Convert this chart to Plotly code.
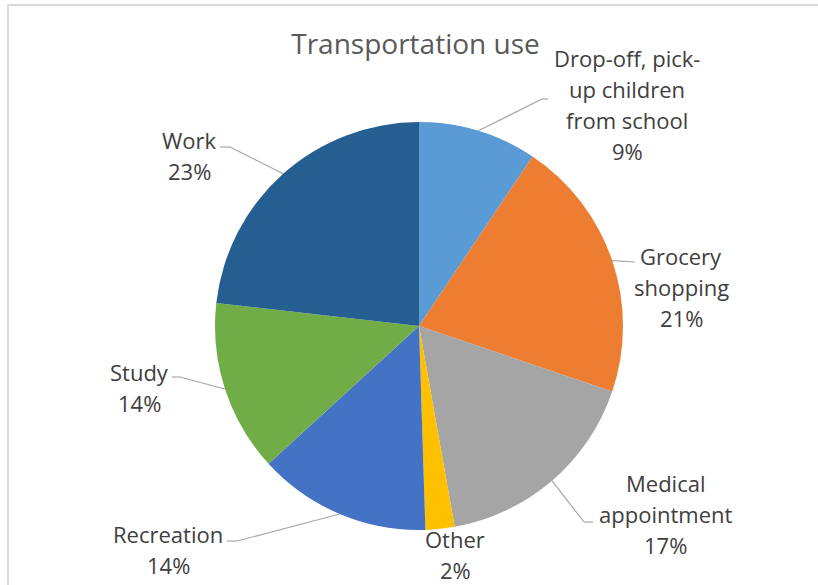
import math
import plotly.graph_objects as go

# ---- data ----
categories = ["Drop-off, pick-up children from school", "Grocery shopping",
              "Medical appointment", "Other", "Recreation", "Study", "Work"]
label_lines = [["Drop-off, pick-", "up children", "from school"], ["Grocery", "shopping"],
               ["Medical", "appointment"], ["Other"], ["Recreation"], ["Study"], ["Work"]]
shares = [9.4, 20.8, 17.0, 2.3, 13.7, 13.6, 23.2]
colors = ["#5B9BD5", "#ED7D31", "#A5A5A5", "#FFC000", "#4472C4", "#70AD47", "#255E91"]
title_text = "Transportation use"

# ---- layout (pixel positions) ----
W, H = 818, 585
CX, CY, R = 419, 326, 204
LINE_H = 31
label_top = [(627, 58), (681, 256), (665, 483), (455, 539), (168, 534), (139, 372), (189, 140)]
leader_pts = [[(542, 99), (548, 99)], [(635, 262)], [(584, 522), (593, 522)], None,
              [(237, 541), (227, 541)], [(180, 377), (172, 377)], [(230, 147), (220, 147)]]
FONT = "Open Sans"


def px(x, y):
    return x / W, 1 - y / H


fig = go.Figure(go.Pie(
    labels=categories, values=shares, sort=False, direction="clockwise", rotation=0,
    marker=dict(colors=colors, line=dict(width=0)), textinfo="none",
    hoverinfo="label+percent", showlegend=False,
    domain=dict(x=[(CX - R) / W, (CX + R) / W], y=[1 - (CY + R) / H, 1 - (CY - R) / H]),
))

total = sum(shares)
annotations = []
shapes = []
cum = 0.0
for i, v in enumerate(shares):
    pct = round(v / total * 100)
    lines = label_lines[i] + [f"{pct}%"]
    x0, y0 = label_top[i]
    for k, line in enumerate(lines):
        lx, ly = px(x0, y0 + k * LINE_H)
        annotations.append(dict(
            x=lx, y=ly, xref="paper", yref="paper", xanchor="center", yanchor="middle",
            text=line, showarrow=False, align="center",
            font=dict(family=FONT, size=22, color="#404040"),
        ))
    mid = (cum + v / 2) / total * 2 * math.pi
    cum += v
    if leader_pts[i] is None:
        continue
    ax = CX + R * math.sin(mid)
    ay = CY - R * math.cos(mid)
    pts = [(ax, ay)] + leader_pts[i]
    for (xa, ya), (xb, yb) in zip(pts[:-1], pts[1:]):
        X0, Y0 = px(xa, ya)
        X1, Y1 = px(xb, yb)
        shapes.append(dict(type="line", xref="paper", yref="paper", x0=X0, y0=Y0, x1=X1, y1=Y1,
                           line=dict(color="#A6A6A6", width=1.2)))

# frame border lines (top and left)
for (xa, ya, xb, yb) in [(7, 5, 818, 5), (8, 5, 8, 585)]:
    X0, Y0 = px(xa, ya)
    X1, Y1 = px(xb, yb)
    shapes.append(dict(type="line", xref="paper", yref="paper", x0=X0, y0=Y0, x1=X1, y1=Y1,
                       line=dict(color="#D9D9D9", width=2)))

tx, ty = px(415.5, 44)
fig.update_layout(
    width=W, height=H, margin=dict(l=0, r=0, t=0, b=0),
    paper_bgcolor="white", plot_bgcolor="white",
    title=dict(text=title_text, x=tx, y=ty, xanchor="center", yanchor="middle",
               font=dict(family=FONT, size=28, color="#595959")),
    annotations=annotations, shapes=shapes,
)

fig.write_html("out.html")
